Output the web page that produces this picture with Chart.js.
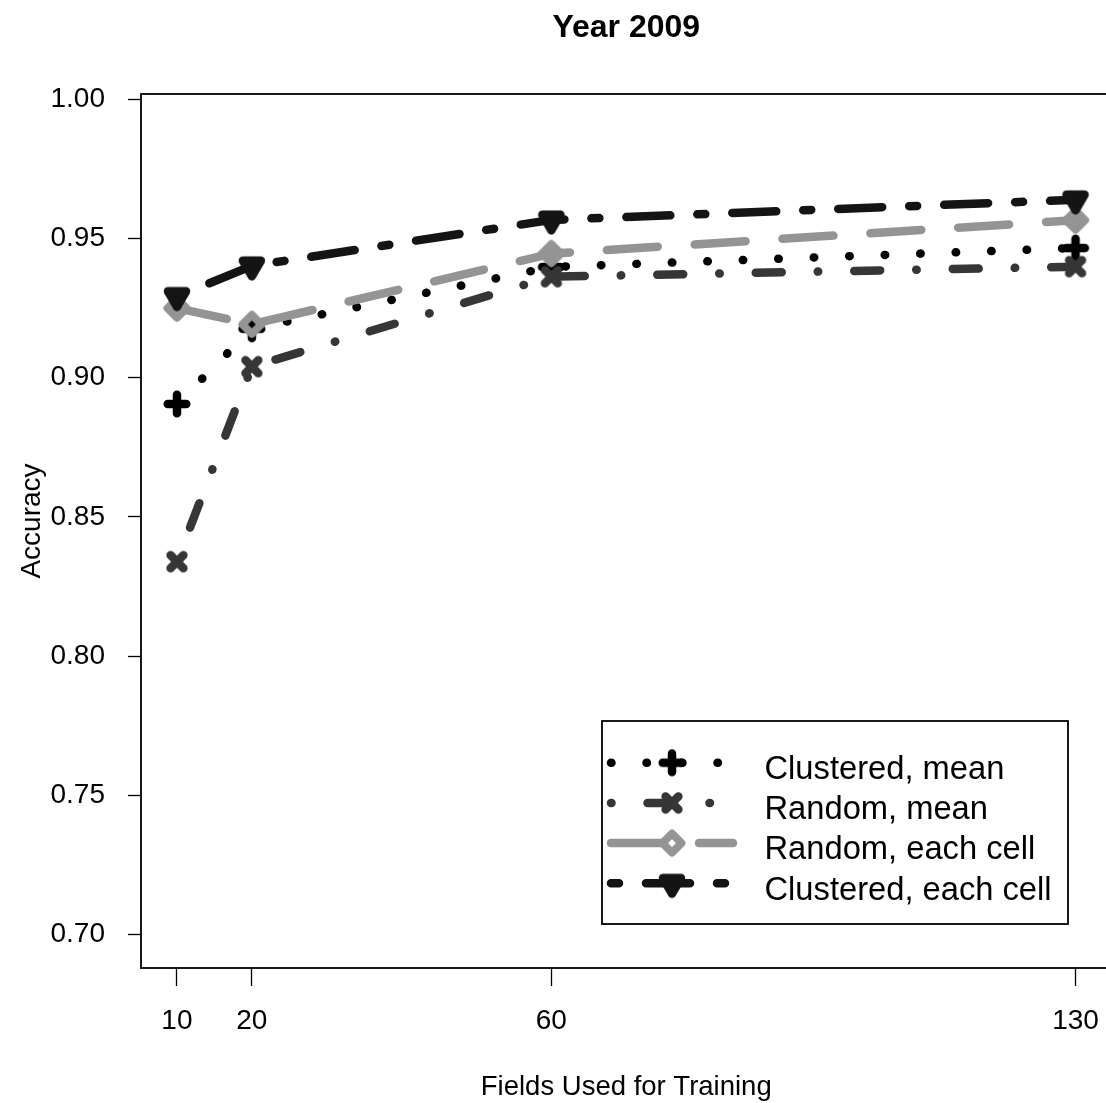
<!DOCTYPE html>
<html>
<head>
<meta charset="utf-8">
<script src="https://cdn.jsdelivr.net/npm/chart.js@4.4.1/dist/chart.umd.min.js"></script>
<style>
html,body{margin:0;padding:0;overflow:hidden;background:#fff}
#wrap{width:1130px;height:1103px;position:relative}
</style>
</head>
<body>
<div id="wrap"><canvas id="c" width="1130" height="1103"></canvas></div>
<script>
// ---- data ----
const fields = [10, 20, 60, 130];
const clusteredMean = [0.8905, 0.9175, 0.9397, 0.9465];
const randomMean = [0.8339, 0.9039, 0.9362, 0.9398];
const randomEachCell = [0.9249, 0.9191, 0.9445, 0.9565];
const clusteredEachCell = [0.9291, 0.9401, 0.9566, 0.9638];
const xTickValues = [10, 20, 60, 130];
const yTickValues = [0.70, 0.75, 0.80, 0.85, 0.90, 0.95, 1.00];
const seriesLabels = ['Clustered, mean', 'Random, mean', 'Random, each cell', 'Clustered, each cell'];
const titleText = 'Year 2009';
const xTitleText = 'Fields Used for Training';
const yTitleText = 'Accuracy';

const FONT = '"Liberation Sans", Arial, Helvetica, sans-serif';

function makeMarker(kind, color) {
  const s = 44;
  const c = document.createElement('canvas');
  c.width = s; c.height = s;
  const g = c.getContext('2d');
  g.translate(s / 2, s / 2);
  g.strokeStyle = color; g.fillStyle = color;
  g.lineWidth = 8.5; g.lineCap = 'round'; g.lineJoin = 'round';
  g.beginPath();
  if (kind === 'plus') {
    g.moveTo(-9.3, 0); g.lineTo(9.3, 0);
    g.moveTo(0, -9.3); g.lineTo(0, 9.3);
    g.stroke();
  } else if (kind === 'cross') {
    const d = 6.4;
    g.moveTo(-d, -d); g.lineTo(d, d);
    g.moveTo(-d, d); g.lineTo(d, -d);
    g.stroke();
  } else if (kind === 'diamond') {
    const R = 9.5;
    g.lineWidth = 8;
    g.moveTo(0, -R); g.lineTo(R, 0); g.lineTo(0, R); g.lineTo(-R, 0); g.closePath();
    g.stroke();
  } else if (kind === 'triDown') {
    const r = 10.4;
    g.moveTo(-0.866 * r, -r / 2); g.lineTo(0.866 * r, -r / 2); g.lineTo(0, r); g.closePath();
    g.fill(); g.stroke();
  }
  return c;
}

const styles = [
  {color: '#000000', dash: [0.5, 35], marker: 'plus', order: 3},
  {color: '#363636', dash: [0.5, 36, 26, 36], marker: 'cross', order: 2},
  {color: '#949494', dash: [51, 37], marker: 'diamond', order: 1},
  {color: '#141414', dash: [8, 27, 44, 27], marker: 'triDown', order: 0}
];
const seriesValues = [clusteredMean, randomMean, randomEachCell, clusteredEachCell];

const datasets = seriesValues.map((vals, i) => {
  const st = styles[i];
  const img = makeMarker(st.marker, st.color);
  return {
    label: seriesLabels[i],
    data: fields.map((x, j) => ({x: x, y: vals[j]})),
    borderColor: st.color,
    backgroundColor: st.color,
    borderWidth: 8.5,
    borderDash: st.dash,
    borderCapStyle: 'round',
    borderJoinStyle: 'round',
    pointStyle: img,
    pointRadius: 10,
    pointHoverRadius: 10,
    tension: 0,
    fill: false,
    order: st.order,
    _markerImg: img
  };
});

const decorPlugin = {
  id: 'decor',
  afterDraw(chart) {
    const ctx = chart.ctx;
    const a = chart.chartArea;
    ctx.save();
    // plot box
    ctx.strokeStyle = '#000';
    ctx.lineWidth = 1.8;
    ctx.setLineDash([]);
    ctx.strokeRect(a.left, a.top, a.right - a.left, a.bottom - a.top);

    // title
    ctx.fillStyle = '#000';
    ctx.textAlign = 'center';
    ctx.textBaseline = 'alphabetic';
    ctx.font = 'bold 32px ' + FONT;
    ctx.fillText(titleText, (a.left + a.right) / 2, 37);

    // x title
    ctx.font = '27.5px ' + FONT;
    ctx.fillText(xTitleText, (a.left + a.right) / 2, 1095);

    // y title
    ctx.save();
    ctx.translate(40, (a.top + a.bottom) / 2 - 10);
    ctx.rotate(-Math.PI / 2);
    ctx.font = '28px ' + FONT;
    ctx.fillText(yTitleText, 0, 0);
    ctx.restore();

    // legend
    const lx0 = 602, ly0 = 721, lx1 = 1068, ly1 = 924;
    ctx.lineWidth = 1.8;
    ctx.strokeStyle = '#000';
    ctx.strokeRect(lx0, ly0, lx1 - lx0, ly1 - ly0);
    chart.data.datasets.forEach((ds, i) => {
      const cy = 762.7 + i * 40.2;
      ctx.save();
      ctx.strokeStyle = ds.borderColor;
      ctx.lineWidth = ds.borderWidth;
      ctx.lineCap = 'round';
      ctx.lineJoin = 'round';
      ctx.setLineDash(ds.borderDash);
      ctx.lineDashOffset = 0;
      ctx.beginPath();
      ctx.moveTo(611, cy);
      ctx.lineTo(733, cy);
      ctx.stroke();
      ctx.setLineDash([]);
      const img = ds._markerImg;
      ctx.drawImage(img, 672 - img.width / 2, cy - img.height / 2);
      ctx.restore();
      ctx.fillStyle = '#000';
      ctx.textAlign = 'left';
      ctx.textBaseline = 'alphabetic';
      ctx.font = '32.7px ' + FONT;
      ctx.fillText(ds.label, 764.5, 779 + i * 40.2);
    });
    ctx.restore();
  }
};

new Chart(document.getElementById('c'), {
  type: 'line',
  data: {datasets: datasets},
  options: {
    responsive: false,
    animation: false,
    events: [],
    layout: {padding: {top: 94, right: 14, left: 0, bottom: 0}},
    plugins: {legend: {display: false}, tooltip: {enabled: false}, title: {display: false}},
    scales: {
      x: {
        type: 'linear',
        min: 5.2,
        max: 134.8,
        afterBuildTicks: s => { s.ticks = xTickValues.map(v => ({value: v})); },
        afterFit: s => { s.height = 135; },
        grid: {drawOnChartArea: false, drawTicks: true, tickLength: 18, tickWidth: 1.3, tickColor: '#000'},
        border: {display: false},
        ticks: {
          font: {family: FONT, size: 28},
          color: '#000',
          padding: 18,
          maxRotation: 0,
          autoSkip: false,
          callback: v => String(v)
        }
      },
      y: {
        type: 'linear',
        min: 0.688,
        max: 1.0018,
        afterBuildTicks: s => { s.ticks = yTickValues.map(v => ({value: v})); },
        afterFit: s => { s.width = 141; },
        grid: {drawOnChartArea: false, drawTicks: true, tickLength: 13, tickWidth: 1.3, tickColor: '#000'},
        border: {display: false},
        ticks: {
          font: {family: FONT, size: 28},
          color: '#000',
          padding: 23,
          autoSkip: false,
          callback: v => Number(v).toFixed(2)
        }
      }
    }
  },
  plugins: [decorPlugin]
});
</script>
</body>
</html>
